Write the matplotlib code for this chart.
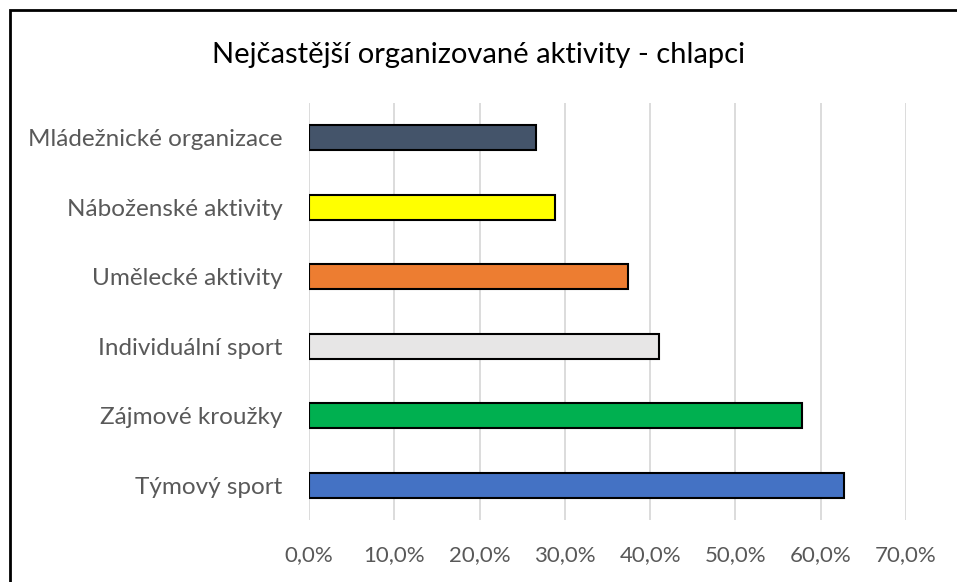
import matplotlib.pyplot as plt
from matplotlib.patches import Rectangle
from matplotlib.ticker import FuncFormatter

# data (share of boys, top category first)
aktivity = ['Mládežnické organizace', 'Náboženské aktivity', 'Umělecké aktivity',
            'Individuální sport', 'Zájmové kroužky', 'Týmový sport']
podil = [0.266, 0.289, 0.374, 0.410, 0.578, 0.627]
barvy = ['#44546A', '#FFFF00', '#ED7D31', '#E7E6E6', '#00B050', '#4472C4']

plt.rcParams['font.family'] = ['Lato', 'DejaVu Sans']

fig = plt.figure(figsize=(9.57, 5.82), dpi=100)
ax = fig.add_axes([309 / 957, 1 - 520 / 582, (906 - 309) / 957, (520 - 103) / 582])

# frame around the chart (cut off on the right and bottom like the screenshot)
fig.patches.append(Rectangle((10 / 957, -0.1), 1.2, 1 - 10 / 582 + 0.1,
                             transform=fig.transFigure, fill=False,
                             edgecolor='black', linewidth=2))

pozice = list(range(len(aktivity)))[::-1]
ax.barh(pozice, podil, height=0.36, color=barvy, edgecolor='black',
        linewidth=1.5, zorder=3)

ax.set_xlim(0, 0.7)
ax.set_ylim(-0.5, len(aktivity) - 0.5)
ax.set_xticks([i / 10 for i in range(8)])
ax.xaxis.set_major_formatter(FuncFormatter(lambda v, p: f"{v * 100:.1f}%".replace('.', ',')))
ax.set_yticks(pozice)
ax.set_yticklabels(aktivity)

ax.grid(axis='x', color='#D9D9D9', linewidth=1.3, zorder=0)
for s in ax.spines.values():
    s.set_visible(False)
ax.tick_params(axis='x', length=0, labelsize=16, colors='#595959', pad=18)
ax.tick_params(axis='y', length=0, labelsize=17.5, colors='#595959', pad=19)

fig.text(0.5, 1 - 55 / 582, 'Nejčastější organizované aktivity - chlapci',
         ha='center', va='center', fontsize=21, color='black')

fig.savefig('out.png', dpi=100)
